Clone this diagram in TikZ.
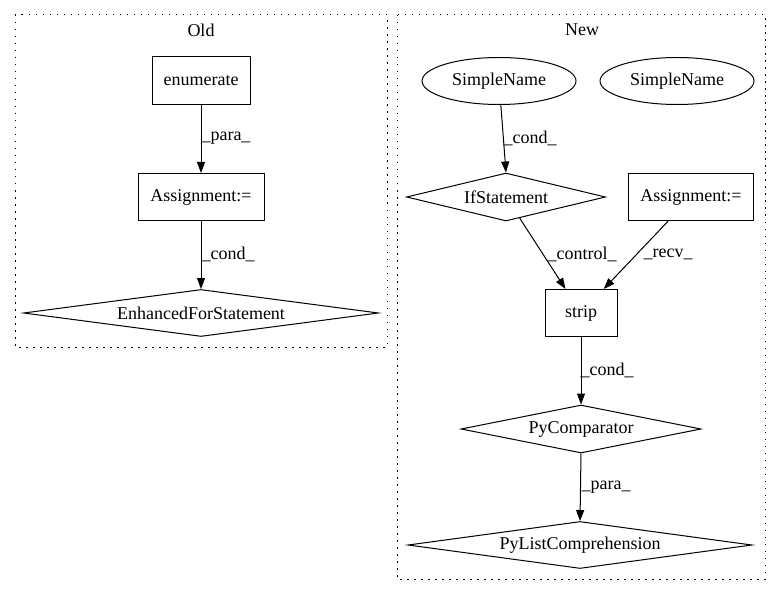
\documentclass[tikz,border=0pt]{standalone}
\usepackage{fontspec}
\setmainfont{Liberation Serif}
\usetikzlibrary{shapes.geometric,arrows.meta}
\begin{document}
\begin{tikzpicture}[x=1pt,y=-1pt,
  every node/.style={font=\fontsize{18}{20}\selectfont},
  boxnode/.style={draw,line width=1pt,rectangle,inner sep=0pt},
  ellnode/.style={draw,line width=1pt,ellipse,inner sep=0pt},
  dianode/.style={draw,line width=1pt,diamond,inner sep=0pt},
  edge/.style={line width=1pt,-{Triangle[length=11pt,width=8pt]}},
  elabel/.style={inner sep=0pt},
  cluster/.style={line width=1pt,dash pattern=on 1.5pt off 5.5pt}]
\useasboundingbox (0,0) rectangle (781,596);
\fill[white] (0,0) rectangle (781,596);
% clusters
\draw[cluster] (15,15) rectangle (387,347);
\draw[cluster] (397,15) rectangle (765,579);
\node[elabel] (oldlbl) at (201,30) {Old};
\node[elabel] (newlbl) at (582,30) {New};
% Old nodes
\node[boxnode,minimum width=98pt,minimum height=48pt] (enum) at (201,81) {enumerate};
\node[boxnode,minimum width=126pt,minimum height=47pt] (asgold) at (201,197) {Assignment:=};
\node[dianode,minimum width=355pt,minimum height=47pt,label={center:EnhancedForStatement}] (efs) at (201,313) {};
% New nodes
\node[ellnode,minimum width=154pt,minimum height=47pt] (sn1) at (499,81) {SimpleName};
\node[ellnode,minimum width=154pt,minimum height=47pt] (sn2) at (677,81) {SimpleName};
\node[dianode,minimum width=199pt,minimum height=48pt,label={center:IfStatement}] (ifs) at (506,197) {};
\node[boxnode,minimum width=125pt,minimum height=47pt] (asgnew) at (691,197) {Assignment:=};
\node[boxnode,minimum width=72pt,minimum height=47pt] (strip) at (581,313) {strip};
\node[dianode,minimum width=240pt,minimum height=48pt,label={center:PyComparator}] (pycomp) at (581,429) {};
\node[dianode,minimum width=344pt,minimum height=47pt,label={center:PyListComprehension}] (pylc) at (580,545) {};
% edges
\draw[edge] (enum) -- (asgold);
\draw[edge] (asgold) -- (efs);
\draw[edge] (sn1) -- (ifs.north);
\draw[edge] (ifs) -- (strip);
\draw[edge] (asgnew) -- (strip);
\draw[edge] (strip) -- (pycomp);
\draw[edge] (pycomp.south) -- (pylc.north);
% edge labels
\node[elabel] (l1) at (226,138) {\_para\_};
\node[elabel] (l2) at (228,254) {\_cond\_};
\node[elabel] (l3) at (530,138) {\_cond\_};
\node[elabel] (l4) at (582,254) {\_control\_};
\node[elabel] (l5) at (668,254) {\_recv\_};
\node[elabel] (l6) at (607,370) {\_cond\_};
\node[elabel] (l7) at (606,487) {\_para\_};
\end{tikzpicture}
\end{document}
